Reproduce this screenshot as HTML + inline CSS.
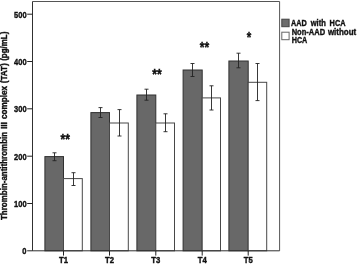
<!DOCTYPE html>
<html><head><meta charset="utf-8"><title>TAT chart</title>
<style>html,body{margin:0;padding:0;background:#fff}svg{display:block}text{font-family:"Liberation Sans",Arial,sans-serif;font-weight:bold;fill:#111;stroke:#111;stroke-width:0.4px}</style></head><body>
<svg width="358" height="265" viewBox="0 0 358 265">
<rect width="358" height="265" fill="#fff"/>
<rect x="44.90" y="156.6" width="18.60" height="94.2" fill="#686868" stroke="#303030" stroke-width="1"/>
<rect x="63.50" y="178.6" width="18.80" height="72.2" fill="#fff" stroke="#484848" stroke-width="1"/>
<path d="M54.5 152.8V160.7M52.5 152.8H56.5M52.5 160.7H56.5" stroke="#222" stroke-width="0.9" fill="none"/>
<path d="M73.5 172.7V185.5M71.5 172.7H75.5M71.5 185.5H75.5" stroke="#222" stroke-width="0.9" fill="none"/>
<path d="M63.5 250.8V255.6" stroke="#222" stroke-width="1"/>
<text x="59.00" y="263.1" font-size="9.3" textLength="9.0" lengthAdjust="spacingAndGlyphs">T1</text>
<text x="60.60" y="144.2" font-size="14" stroke-width="0.15" textLength="9.4" lengthAdjust="spacingAndGlyphs">**</text>
<rect x="90.90" y="112.6" width="18.60" height="138.2" fill="#686868" stroke="#303030" stroke-width="1"/>
<rect x="109.50" y="123.0" width="18.80" height="127.8" fill="#fff" stroke="#484848" stroke-width="1"/>
<path d="M100.5 107.6V117.5M98.5 107.6H102.5M98.5 117.5H102.5" stroke="#222" stroke-width="0.9" fill="none"/>
<path d="M119.5 109.6V136.0M117.5 109.6H121.5M117.5 136.0H121.5" stroke="#222" stroke-width="0.9" fill="none"/>
<path d="M109.5 250.8V255.6" stroke="#222" stroke-width="1"/>
<text x="105.00" y="263.1" font-size="9.3" textLength="9.0" lengthAdjust="spacingAndGlyphs">T2</text>
<rect x="136.90" y="95.0" width="18.90" height="155.8" fill="#686868" stroke="#303030" stroke-width="1"/>
<rect x="155.80" y="123.0" width="18.70" height="127.8" fill="#fff" stroke="#484848" stroke-width="1"/>
<path d="M146.5 89.2V100.2M144.5 89.2H148.5M144.5 100.2H148.5" stroke="#222" stroke-width="0.9" fill="none"/>
<path d="M165.5 113.8V131.7M163.5 113.8H167.5M163.5 131.7H167.5" stroke="#222" stroke-width="0.9" fill="none"/>
<path d="M155.8 250.8V255.6" stroke="#222" stroke-width="1"/>
<text x="151.30" y="263.1" font-size="9.3" textLength="9.0" lengthAdjust="spacingAndGlyphs">T3</text>
<text x="152.20" y="79.3" font-size="14" stroke-width="0.15" textLength="9.4" lengthAdjust="spacingAndGlyphs">**</text>
<rect x="183.10" y="70.0" width="19.10" height="180.8" fill="#686868" stroke="#303030" stroke-width="1"/>
<rect x="202.20" y="97.9" width="18.30" height="152.9" fill="#fff" stroke="#484848" stroke-width="1"/>
<path d="M192.5 63.5V76.5M190.5 63.5H194.5M190.5 76.5H194.5" stroke="#222" stroke-width="0.9" fill="none"/>
<path d="M211.5 85.8V110.0M209.5 85.8H213.5M209.5 110.0H213.5" stroke="#222" stroke-width="0.9" fill="none"/>
<path d="M202.2 250.8V255.6" stroke="#222" stroke-width="1"/>
<text x="197.70" y="263.1" font-size="9.3" textLength="9.0" lengthAdjust="spacingAndGlyphs">T4</text>
<text x="199.70" y="51.6" font-size="14" stroke-width="0.15" textLength="9.4" lengthAdjust="spacingAndGlyphs">**</text>
<rect x="228.90" y="61.0" width="19.30" height="189.8" fill="#686868" stroke="#303030" stroke-width="1"/>
<rect x="248.20" y="82.3" width="18.50" height="168.5" fill="#fff" stroke="#484848" stroke-width="1"/>
<path d="M238.5 53.2V67.8M236.5 53.2H240.5M236.5 67.8H240.5" stroke="#222" stroke-width="0.9" fill="none"/>
<path d="M257.5 63.5V100.6M255.5 63.5H259.5M255.5 100.6H259.5" stroke="#222" stroke-width="0.9" fill="none"/>
<path d="M248.2 250.8V255.6" stroke="#222" stroke-width="1"/>
<text x="243.70" y="263.1" font-size="9.3" textLength="9.0" lengthAdjust="spacingAndGlyphs">T5</text>
<text x="246.75" y="41.5" font-size="14" stroke-width="0.15" textLength="4.5" lengthAdjust="spacingAndGlyphs">*</text>
<path d="M32.5 1.5H279.6V250.8" stroke="#555" stroke-width="1" fill="none"/>
<path d="M32.5 1.5V250.8H279.6" stroke="#303030" stroke-width="1" fill="none"/>
<path d="M27.2 250.8H32.5" stroke="#222" stroke-width="1"/>
<text x="22.35" y="254.2" font-size="9.3" textLength="4.2" lengthAdjust="spacingAndGlyphs">0</text>
<path d="M27.2 203.5H32.5" stroke="#222" stroke-width="1"/>
<text x="14.05" y="206.9" font-size="9.3" textLength="12.5" lengthAdjust="spacingAndGlyphs">100</text>
<path d="M27.2 156.2H32.5" stroke="#222" stroke-width="1"/>
<text x="14.05" y="159.6" font-size="9.3" textLength="12.5" lengthAdjust="spacingAndGlyphs">200</text>
<path d="M27.2 108.8H32.5" stroke="#222" stroke-width="1"/>
<text x="14.05" y="112.2" font-size="9.3" textLength="12.5" lengthAdjust="spacingAndGlyphs">300</text>
<path d="M27.2 61.5H32.5" stroke="#222" stroke-width="1"/>
<text x="14.05" y="64.9" font-size="9.3" textLength="12.5" lengthAdjust="spacingAndGlyphs">400</text>
<path d="M27.2 14.2H32.5" stroke="#222" stroke-width="1"/>
<text x="14.05" y="17.6" font-size="9.3" textLength="12.5" lengthAdjust="spacingAndGlyphs">500</text>
<text transform="translate(6.8 219.7) rotate(-90)" font-size="9"><tspan x="-0.30" y="0" textLength="88.10" lengthAdjust="spacingAndGlyphs">Thrombin-antithrombin</tspan> <tspan x="90.60" y="0" textLength="7.10" lengthAdjust="spacingAndGlyphs">III</tspan> <tspan x="100.70" y="0" textLength="33.00" lengthAdjust="spacingAndGlyphs">complex</tspan> <tspan x="136.40" y="0" textLength="19.90" lengthAdjust="spacingAndGlyphs">(TAT)</tspan> <tspan x="158.90" y="0" textLength="29.10" lengthAdjust="spacingAndGlyphs">(pg/mL)</tspan></text>
<rect x="281.8" y="19.2" width="7.3" height="7.5" fill="#6c6c6c" stroke="#444" stroke-width="1"/>
<rect x="281.8" y="32.2" width="7.3" height="7.5" fill="#fff" stroke="#666" stroke-width="1"/>
<text font-size="9.1"><tspan x="291.10" y="26.1" textLength="15.70" lengthAdjust="spacingAndGlyphs">AAD</tspan> <tspan x="310.70" y="26.1" textLength="15.10" lengthAdjust="spacingAndGlyphs">with</tspan> <tspan x="329.60" y="26.1" textLength="15.90" lengthAdjust="spacingAndGlyphs">HCA</tspan></text>
<text font-size="9.1"><tspan x="291.70" y="35.1" textLength="33.40" lengthAdjust="spacingAndGlyphs">Non-AAD</tspan> <tspan x="327.90" y="35.1" textLength="28.30" lengthAdjust="spacingAndGlyphs">without</tspan></text>
<text font-size="9.1"><tspan x="291.70" y="43.3" textLength="15.60" lengthAdjust="spacingAndGlyphs">HCA</tspan></text>
</svg></body></html>
